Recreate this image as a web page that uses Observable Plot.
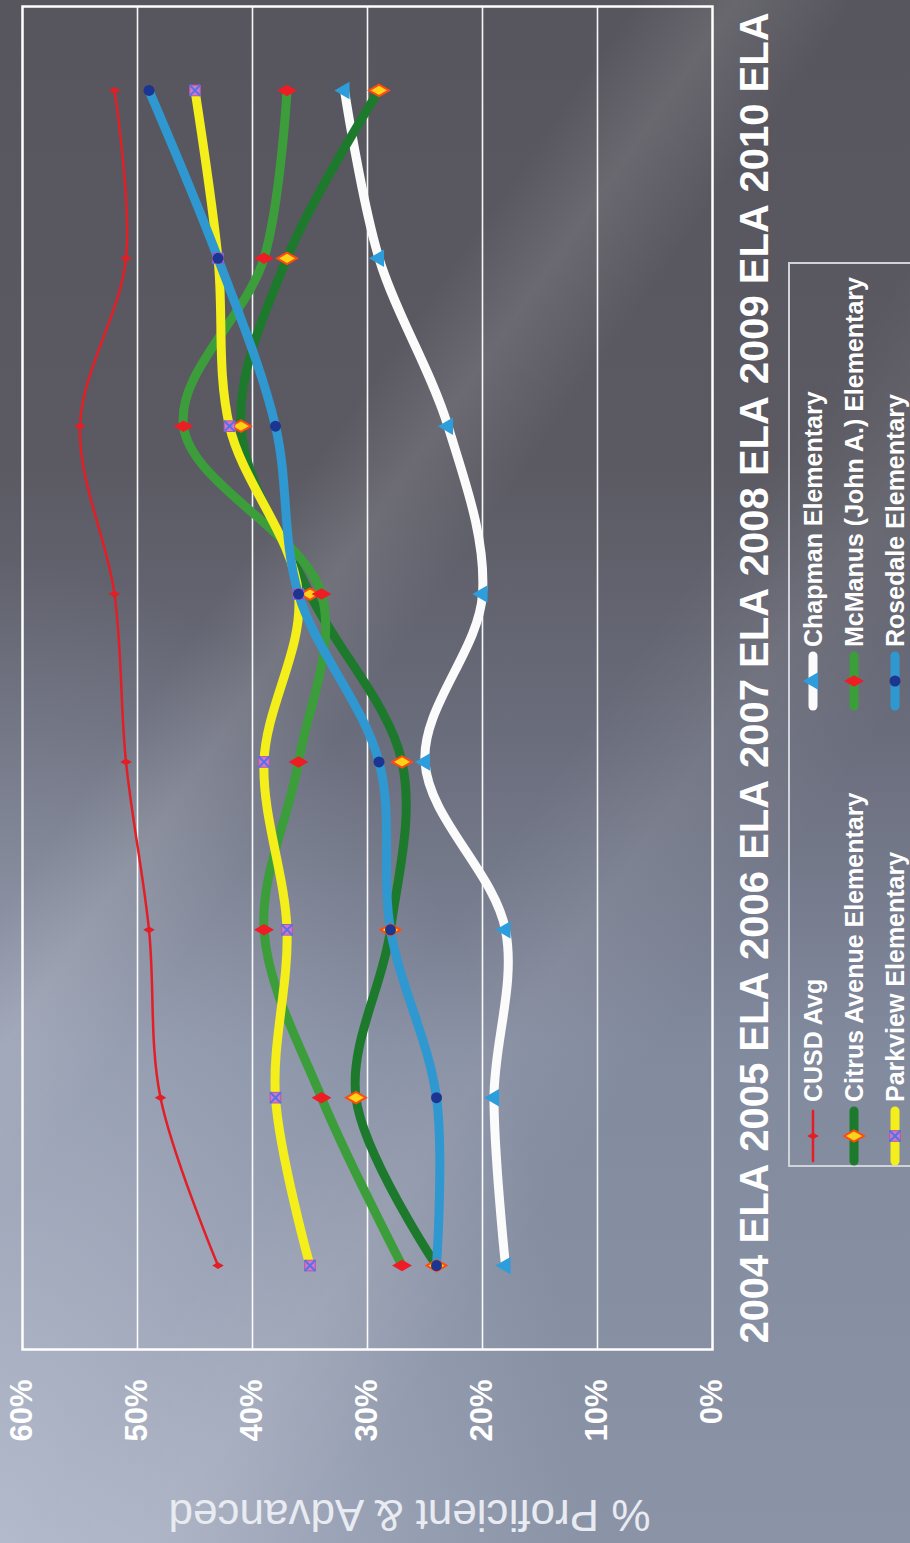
<!DOCTYPE html>
<html><head><meta charset="utf-8">
<script src="https://cdn.jsdelivr.net/npm/d3@7"></script>
<script src="https://cdn.jsdelivr.net/npm/@observablehq/plot@0.6"></script>
<style>
html,body{margin:0;padding:0;width:910px;height:1543px;overflow:hidden;}
body{
  position:relative;
  font-family:"Liberation Sans", Arial, sans-serif;
  background:
    linear-gradient(125deg, rgba(255,255,255,0) 32%, rgba(255,255,255,0.10) 37%, rgba(255,255,255,0) 43%),
    linear-gradient(125deg, rgba(255,255,255,0) 55%, rgba(255,255,255,0.07) 62%, rgba(255,255,255,0) 70%),
    radial-gradient(ellipse at 0% 100%, rgba(205,212,228,0.6) 0%, rgba(205,212,228,0) 45%),
    linear-gradient(to bottom, #57565e 0%, #5b5a63 30%, #6a6d7c 48%, #828a9e 68%, #8b93a7 100%);
}
#rot{position:absolute;left:0;top:0;width:1543px;height:910px;transform-origin:0 0;transform:translate(0,1543px) rotate(-90deg);}
#chart{position:absolute;left:0;top:0;}
#legend{position:absolute;left:376px;top:788px;width:905px;height:170px;border:2px solid #d0d3da;box-sizing:border-box;}
.item{position:absolute;display:flex;align-items:center;height:30px;color:#fff;font-weight:bold;font-size:25px;white-space:nowrap;}
.item span{margin-left:4px;}
</style></head>
<body>
<div id="rot"><div id="chart"></div><div id="legend"></div></div>
<script>
// ---- data ----
const pointSlots = [0, 1, 2, 3, 4, 5, 6, 7];
const yearLabels = ["2004 ELA", "2005 ELA", "2006 ELA", "2007 ELA", "2008 ELA", "2009 ELA", "2010 ELA"];
const percentTicks = [0, 0.1, 0.2, 0.3, 0.4, 0.5, 0.6];
const seriesNames = ["CUSD Avg", "Chapman Elementary", "Citrus Avenue Elementary",
  "McManus (John A.) Elementary", "Parkview Elementary", "Rosedale Elementary"];
const cusdAvg  = [0.43, 0.48, 0.49, 0.51, 0.52, 0.55, 0.51, 0.52];
const chapman  = [0.18, 0.19, 0.18, 0.25, 0.20, 0.23, 0.29, 0.32];
const citrus   = [0.24, 0.31, 0.28, 0.27, 0.35, 0.41, 0.37, 0.29];
const mcmanus  = [0.27, 0.34, 0.39, 0.36, 0.34, 0.46, 0.39, 0.37];
const parkview = [0.35, 0.38, 0.37, 0.39, 0.36, 0.42, 0.43, 0.45];
const rosedale = [0.24, 0.24, 0.28, 0.29, 0.36, 0.38, 0.43, 0.49];
const seriesValues = [cusdAvg, chapman, citrus, mcmanus, parkview, rosedale];

// ---- styles ----
const lineColors = ["#e21e26", "#fbfbfb", "#1d7a2c", "#3c9e3a", "#f4ee1a", "#2f98d0"];
const lineWidths = [2.5, 9, 9, 9, 9, 9];
const markerSpecs = [
  [{symbol: "diamond", r: 3.5, fill: "#e21e26"}],
  [{symbol: "triangle", r: 6.5, fill: "#2d9ddb"}],
  [{symbol: "diamond", r: 6, fill: "#ffd21a", stroke: "#ff4a10", strokeWidth: 2}],
  [{symbol: "diamond", r: 6, fill: "#ee1c24"}],
  [{symbol: "square", r: 6, fill: "#cf78c6", stroke: "#c24fae", strokeWidth: 1},
   {symbol: "times", r: 5, stroke: "#4f74e8", strokeWidth: 2}],
  [{symbol: "circle", r: 5.5, fill: "#1b3591"}]
];

const nSlots = pointSlots.length;
const rows = seriesNames.flatMap((s, k) =>
  pointSlots.map(i => ({series: s, slot: i + 0.5, value: seriesValues[k][i]})));
const labelSlots = yearLabels.map((d, j) => (j + 0.5) * nSlots / yearLabels.length);

const lineMarks = seriesNames.map((s, k) =>
  Plot.line(rows.filter(d => d.series === s), {
    x: "slot", y: "value", curve: "catmull-rom",
    stroke: lineColors[k], strokeWidth: lineWidths[k], strokeLinecap: "round", strokeLinejoin: "round"
  }));
const dotMarks = seriesNames.flatMap((s, k) =>
  markerSpecs[k].map(m => Plot.dot(rows.filter(d => d.series === s), {x: "slot", y: "value", ...m})));

const chart = Plot.plot({
  width: 1543, height: 785,
  marginTop: 22, marginBottom: 73, marginLeft: 193, marginRight: 7,
  style: {background: "none", color: "white", fontFamily: "'Liberation Sans', Arial, sans-serif"},
  x: {type: "linear", domain: [0, nSlots]},
  y: {domain: [0, 0.6]},
  marks: [
    Plot.gridY(percentTicks.slice(1, -1), {stroke: "white", strokeOpacity: 0.95, strokeWidth: 1.6}),
    Plot.frame({stroke: "white", strokeWidth: 2.5}),
    Plot.axisY({ticks: percentTicks, tickFormat: d3.format(".0%"), tickSize: 0, tickPadding: 30,
      fontSize: 31, fontWeight: "bold", fill: "white", label: null}),
    Plot.axisX({ticks: labelSlots, tickFormat: d => yearLabels[Math.round(d * yearLabels.length / nSlots - 0.5)],
      tickSize: 0, tickPadding: 27, fontSize: 40, fontWeight: "bold", fill: "white", label: null}),
    Plot.text(["% Proficient & Advanced"], {frameAnchor: "left", textAnchor: "middle", lineAnchor: "middle",
      rotate: -90, dx: -165, dy: 42, fontSize: 44, fill: "#e8ebf1"}),
    ...lineMarks,
    ...dotMarks
  ]
});
document.getElementById("chart").appendChild(chart);

// ---- legend (below the plot, in the chart's own orientation) ----
const legendOrder = [[0, 1], [2, 3], [4, 5]]; // rows of [left, right]
const rowCenters = [23, 64, 105];
const colSwatchCenters = [29, 484];
const legend = d3.select("#legend");
const symbolMap = {diamond: d3.symbolDiamond, triangle: d3.symbolTriangle, square: d3.symbolSquare,
  circle: d3.symbolCircle, times: d3.symbolTimes};
legendOrder.forEach((pair, r) => pair.forEach((k, c) => {
  const item = legend.append("div").attr("class", "item")
    .style("left", (colSwatchCenters[c] - 30) + "px")
    .style("top", (rowCenters[r] - 15) + "px");
  const svg = item.append("svg").attr("width", 60).attr("height", 30);
  svg.append("line").attr("x1", 5).attr("x2", 55).attr("y1", 15).attr("y2", 15)
    .attr("stroke", lineColors[k]).attr("stroke-width", lineWidths[k]).attr("stroke-linecap", "round");
  markerSpecs[k].forEach(m => {
    svg.append("path").attr("transform", "translate(30,15)")
      .attr("d", d3.symbol(symbolMap[m.symbol], Math.PI * m.r * m.r)())
      .attr("fill", m.fill || "none").attr("stroke", m.stroke || "none")
      .attr("stroke-width", m.strokeWidth || 0);
  });
  item.append("span").text(seriesNames[k]);
}));
</script>
</body></html>
